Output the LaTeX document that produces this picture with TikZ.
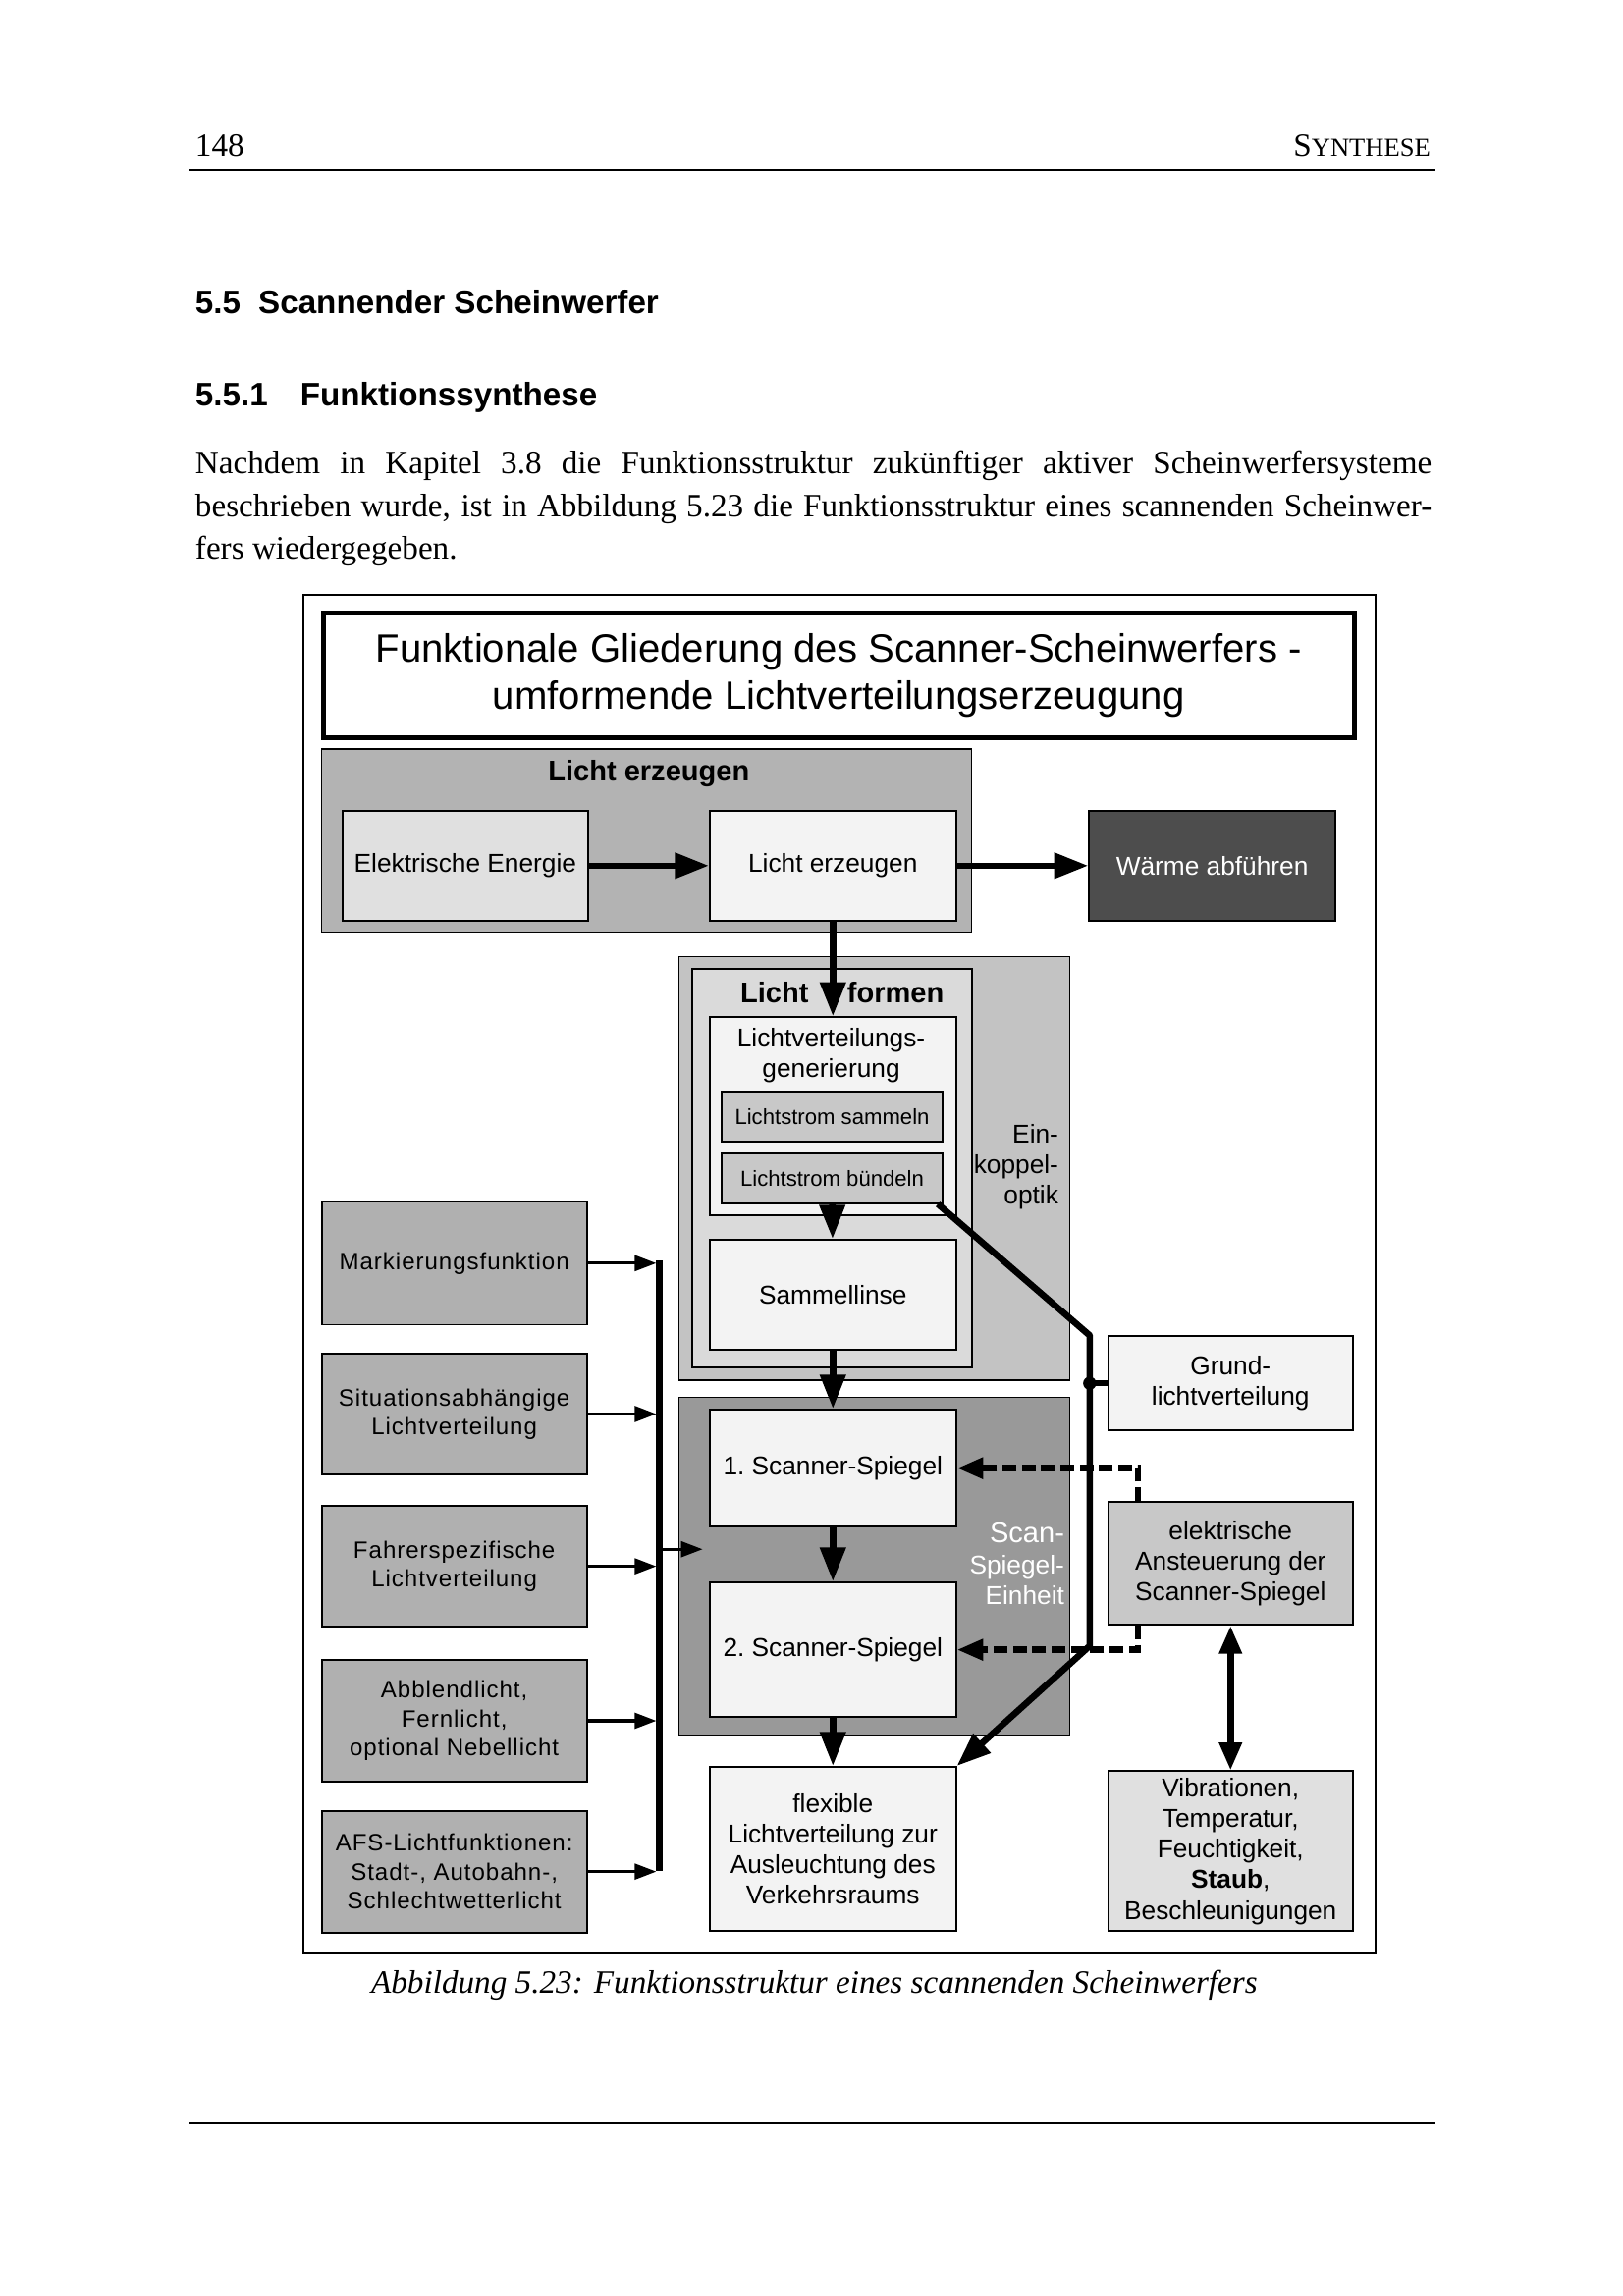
\documentclass[tikz,border=0pt]{standalone}
\usepackage{fontspec}
\setmainfont{Liberation Serif}
\setsansfont{Liberation Sans}
\newfontfamily\breitsans[LetterSpace=4]{Liberation Sans}
\usetikzlibrary{arrows.meta}
\usetikzlibrary{positioning}
\usetikzlibrary{calc}

\newdimen\px
\px=0.18953mm

\definecolor{grauA}{HTML}{B3B3B3}
\definecolor{grauB}{HTML}{E0E0E0}
\definecolor{hell}{HTML}{F3F3F3}
\definecolor{dunkel}{HTML}{4D4D4D}
\definecolor{grauC}{HTML}{C3C3C3}
\definecolor{grauD}{HTML}{DADADA}
\definecolor{grauE}{HTML}{C8C8C8}
\definecolor{grauF}{HTML}{999999}
\definecolor{grauL}{HTML}{B0B0B0}

\newcommand{\textschrift}{\fontsize{12}{15.7}\selectfont}
\newcommand{\boxschrift}{\sffamily\fontsize{9.5}{11.3}\selectfont}
\newcommand{\randschrift}{\breitsans\fontsize{8.7}{10.6}\selectfont}
\newcommand{\kleinschrift}{\sffamily\fontsize{8}{10}\selectfont}
\newcommand{\gruppenschrift}{\sffamily\bfseries\fontsize{10.5}{12}\selectfont}
\newcommand{\titelschrift}{\sffamily\fontsize{14.5}{17.2}\selectfont}

\begin{document}
\begin{tikzpicture}[x=0.18953mm, y=-0.18953mm, block/.style 2 args={rectangle, draw, line width=0.7pt, minimum width=#1*\px, minimum height=#2*\px, anchor=north west, inner sep=0pt, align=center, font=\boxschrift}, group/.style 2 args={rectangle, draw, line width=0.5pt, minimum width=#1*\px, minimum height=#2*\px, anchor=north west, inner sep=0pt}, arrow/.style={line width=2.4pt, -{Triangle[length=4.4mm, width=3.2mm]}}, feed/.style={line width=1.2pt, shorten >=1pt, -{Triangle[length=2.8mm, width=2mm]}}, dasharrow/.style={line width=2.4pt, dash pattern=on 1.8mm off 0.7mm, -{Triangle[length=3.4mm, width=2.6mm]}}, thickline/.style={line width=2.4pt, line join=round}]
\useasboundingbox[fill=white] (0,0) rectangle (1108,1568);
% Seite
\node[anchor=base west, inner sep=0pt, font=\textschrift] (seite) at (133,107) {148};
\node[anchor=base east, inner sep=0pt, font=\textschrift] (kopf) at (977,107) {S{\fontsize{9.6}{12}\selectfont YNTHESE}};
\draw[line width=0.7pt] (129,116) -- (980,116);
\node[anchor=base west, inner sep=0pt, font=\sffamily\bfseries\fontsize{12}{14}\selectfont] (abschnitt) at (133,214.5) {5.5\hspace{2.3mm}Scannender Scheinwerfer};
\node[anchor=base west, inner sep=0pt, font=\sffamily\bfseries\fontsize{12}{14}\selectfont] (unterabschnitt) at (133,277) {5.5.1\hspace{4.2mm}Funktionssynthese};
\node[anchor=north west, inner sep=0pt, text width=160mm, align=justify, font=\textschrift] (absatz) at (133,307.5) {Nachdem in Kapitel 3.8 die Funktionsstruktur zukünftiger aktiver Scheinwerfersysteme\linebreak beschrieben wurde, ist in Abbildung 5.23 die Funktionsstruktur eines scannenden Scheinwer-\linebreak fers wiedergegeben.};
\node[anchor=base, inner sep=0pt, font=\itshape\textschrift] (unterschrift) at (556,1361) {Abbildung 5.23: Funktionsstruktur eines scannenden Scheinwerfers};
\draw[line width=0.7pt] (129,1450) -- (980,1450);
% Abbildung
\draw[line width=0.8pt] (207,406) rectangle (939,1334);
\node[block={704}{85}, line width=1.8pt, font=\titelschrift] (titel) at (219,417) {Funktionale Gliederung des Scanner-Scheinwerfers -\\umformende Lichtverteilungserzeugung};
% Licht erzeugen
\node[group={444}{125}, fill=grauA] (erzeugen) at (219,511) {};
\node[font=\gruppenschrift] (erzeugentitel) at (443,528) {Licht erzeugen};
\node[block={168}{75}, fill=grauB] (elek) at (233,553) {Elektrische Energie};
\node[block={168}{75}, fill=hell] (lerz) at (484,553) {Licht erzeugen};
\node[block={168}{75}, fill=dunkel, text=white] (waerme) at (743,553) {Wärme abführen};
% Einkoppeloptik
\node[group={267}{289}, fill=grauC] (einkoppel) at (463,653) {};
\node[group={191}{272}, line width=0.7pt, fill=grauD] (formen) at (472,661) {};
\node[font=\gruppenschrift] (formentitel) at (575,678) {Licht\hspace{5mm}formen};
\node[anchor=east, align=right, inner sep=0pt, font=\boxschrift] (einkoppeltext) at (723,797) {Ein-\\koppel-\\optik};
\node[block={168}{135}, fill=hell] (lvg) at (484,694) {};
\node[font=\boxschrift, align=center] (lvgtext) at (567.5,721) {Lichtverteilungs-\\generierung};
\node[block={151}{34}, fill=grauE, font=\kleinschrift] (sammeln) at (492,745) {Lichtstrom sammeln};
\node[block={151}{34}, fill=grauE, font=\kleinschrift] (buendeln) at (492,787) {Lichtstrom bündeln};
\node[block={168}{75}, fill=hell] (linse) at (484,846) {Sammellinse};
% Scan-Spiegel-Einheit
\node[group={267}{231}, fill=grauF] (scan) at (463,954) {};
\node[anchor=east, align=right, inner sep=0pt, text=white, font=\boxschrift] (scantext) at (727,1068) {{\fontsize{10.5}{12}\selectfont Scan-}\\Spiegel-\\Einheit};
\node[block={168}{80}, fill=hell] (sp1) at (484,962) {1.\ Scanner-Spiegel};
\node[block={168}{92}, fill=hell] (sp2) at (484,1080) {2.\ Scanner-Spiegel};
\node[block={168}{112}, fill=hell] (flex) at (484,1206) {flexible\\Lichtverteilung zur\\Ausleuchtung des\\Verkehrsraums};
% rechts
\node[block={167}{64}, fill=hell] (grund) at (756,912) {Grund-\\lichtverteilung};
\node[block={167}{84}, fill=grauE] (anst) at (756,1025) {elektrische\\Ansteuerung der\\Scanner-Spiegel};
\node[block={167}{109}, fill=grauB] (vib) at (756,1209) {Vibrationen,\\Temperatur,\\Feuchtigkeit,\\\textbf{Staub},\\Beschleunigungen};
% links
\node[block={181}{84}, fill=grauL, font=\randschrift] (mark) at (219,820) {Markierungsfunktion};
\node[block={181}{82}, fill=grauL, font=\randschrift] (sit) at (219,924) {Situationsabhängige\\Lichtverteilung};
\node[block={181}{82}, fill=grauL, font=\randschrift] (fahr) at (219,1028) {Fahrerspezifische\\Lichtverteilung};
\node[block={181}{83}, fill=grauL, font=\randschrift] (abbl) at (219,1133) {Abblendlicht,\\Fernlicht,\\optional Nebellicht};
\node[block={181}{83}, fill=grauL, font=\randschrift] (afs) at (219,1236) {AFS-Lichtfunktionen:\\Stadt-, Autobahn-,\\Schlechtwetterlicht};
% Verbindungen
\draw[arrow] (elek) -- (lerz);
\draw[arrow] (lerz) -- (waerme);
\draw[arrow] (lerz) -- (lvg);
\draw[arrow] (buendeln) -- (linse);
\draw[arrow] (linse) -- (sp1);
\draw[arrow] (sp1) -- (sp2);
\draw[arrow] (sp2) -- (flex);
\coordinate (knick1) at (744,912);
\coordinate (knick2) at (744,1124);
\draw[thickline, -{Triangle[length=4.4mm, width=3.2mm]}] ($(buendeln.south east)+(-4,0)$) -- (knick1) -- (knick2) -- (flex.north east);
\draw[thickline] (grund.west) -- (grund.west -| knick1);
\fill (grund.west -| knick1) circle (4.5);
\draw[dasharrow] ($(anst.north west)+(21,0)$) |- (sp1.east);
\draw[dasharrow] ($(anst.south west)+(21,0)$) |- (sp2.east);
\draw[arrow, {Triangle[length=3.6mm, width=2.8mm]}-{Triangle[length=3.6mm, width=2.8mm]}] (anst) -- (vib);
\coordinate (busoben) at (450,861);
\coordinate (busunten) at (450,1278);
\coordinate (busmitte) at (450,1058);
\draw[line width=2.4pt] (busoben) -- (busunten);
\draw[feed] (mark) -- (mark -| busoben);
\draw[feed] (sit) -- (sit -| busoben);
\draw[feed] (fahr) -- (fahr -| busoben);
\draw[feed] (abbl) -- (abbl -| busoben);
\draw[feed] (afs) -- (afs -| busoben);
\draw[feed, shorten >=0.8mm] (busmitte) -- (busmitte -| sp1.west);
\end{tikzpicture}
\end{document}
